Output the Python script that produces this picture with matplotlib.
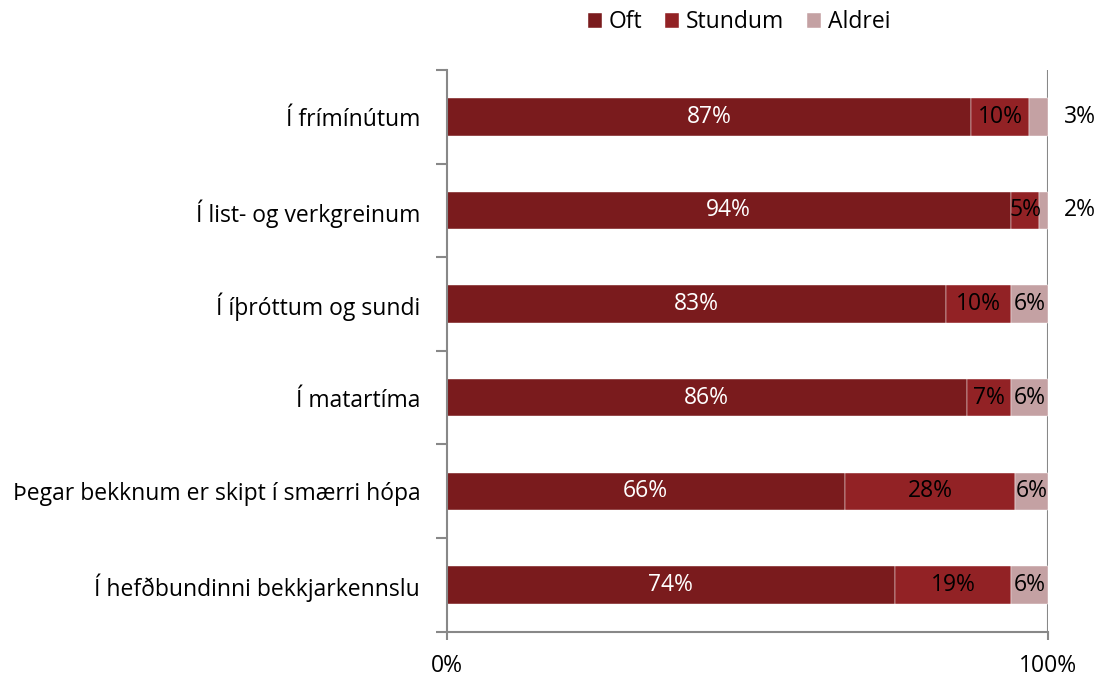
import numpy as np
import matplotlib
matplotlib.use('Agg')
import matplotlib.pyplot as plt
from matplotlib.ticker import FixedLocator

plt.rcParams['font.family'] = ['Open Sans', 'DejaVu Sans']

# Gögn (lesið af mynd)
categories = ['Í frímínútum', 'Í list- og verkgreinum', 'Í íþróttum og sundi',
              'Í matartíma', 'Þegar bekknum er skipt í smærri hópa',
              'Í hefðbundinni bekkjarkennslu']
oft = [87.2, 93.8, 83.0, 86.5, 66.2, 74.5]
stundum = [9.6, 4.7, 10.8, 7.3, 28.3, 19.3]
aldrei = [3.2, 1.5, 6.2, 6.2, 5.5, 6.2]
oft_labels = ['87%', '94%', '83%', '86%', '66%', '74%']
stundum_labels = ['10%', '5%', '10%', '7%', '28%', '19%']
aldrei_labels = ['3%', '2%', '6%', '6%', '6%', '6%']
series_names = ['Oft', 'Stundum', 'Aldrei']

colors = ['#7a1b1d', '#922225', '#c4a1a3']

fig = plt.figure(figsize=(11, 6.8), dpi=100)
ax = fig.add_axes([0.406, 0.071, 0.547, 0.826])

y = np.arange(len(categories))
oft_f = np.array(oft) / 100
st_f = np.array(stundum) / 100
al_f = np.array(aldrei) / 100

b1 = ax.barh(y, oft_f, height=0.4, color=colors[0], label=series_names[0],
             edgecolor='white', linewidth=0.3)
b2 = ax.barh(y, st_f, left=oft_f, height=0.4, color=colors[1],
             label=series_names[1], edgecolor='white', linewidth=0.3)
b3 = ax.barh(y, al_f, left=oft_f + st_f, height=0.4, color=colors[2],
             label=series_names[2], edgecolor='white', linewidth=0.3)

fs = 16.5
for i in range(len(categories)):
    ax.text(oft_f[i] / 2, y[i], oft_labels[i], ha='center', va='center',
            color='white', fontsize=fs)
    ax.text(oft_f[i] + st_f[i] / 2, y[i], stundum_labels[i], ha='center',
            va='center', color='black', fontsize=fs)
    if al_f[i] < 0.04:
        # of lítið pláss, setja merkið utan við
        ax.text(1.053, y[i], aldrei_labels[i], ha='center', va='center',
                color='black', fontsize=fs)
    else:
        ax.text(oft_f[i] + st_f[i] + al_f[i] / 2, y[i], aldrei_labels[i],
                ha='center', va='center', color='black', fontsize=fs)

ax.set_xlim(0, 1)
ax.set_ylim(len(categories) - 0.5, -0.5)

ax.set_yticks(y)
ax.set_yticklabels(categories, fontsize=fs)
ax.tick_params(axis='y', which='major', length=0, pad=19)
ax.yaxis.set_minor_locator(FixedLocator(np.arange(-0.5, len(categories), 1)))
ax.tick_params(axis='y', which='minor', length=8, width=1.5, color='#888888')

ax.set_xticks([0, 1])
ax.set_xticklabels(['0%', '100%'], fontsize=fs)
ax.tick_params(axis='x', length=6, width=1.5, color='#888888', pad=10)

for s in ['top', 'right']:
    ax.spines[s].set_visible(False)
for s in ['left', 'bottom']:
    ax.spines[s].set_color('#888888')
    ax.spines[s].set_linewidth(1.5)
ax.axvline(1, color='#888888', linewidth=1.5, zorder=0)

fig.legend(handles=[b1, b2, b3], loc='center', bbox_to_anchor=(0.672, 0.967),
           ncol=3, frameon=False, fontsize=fs, handlelength=0.6,
           handleheight=0.6, handletextpad=0.3, columnspacing=1.0)

fig.savefig('out.png', dpi=100)
